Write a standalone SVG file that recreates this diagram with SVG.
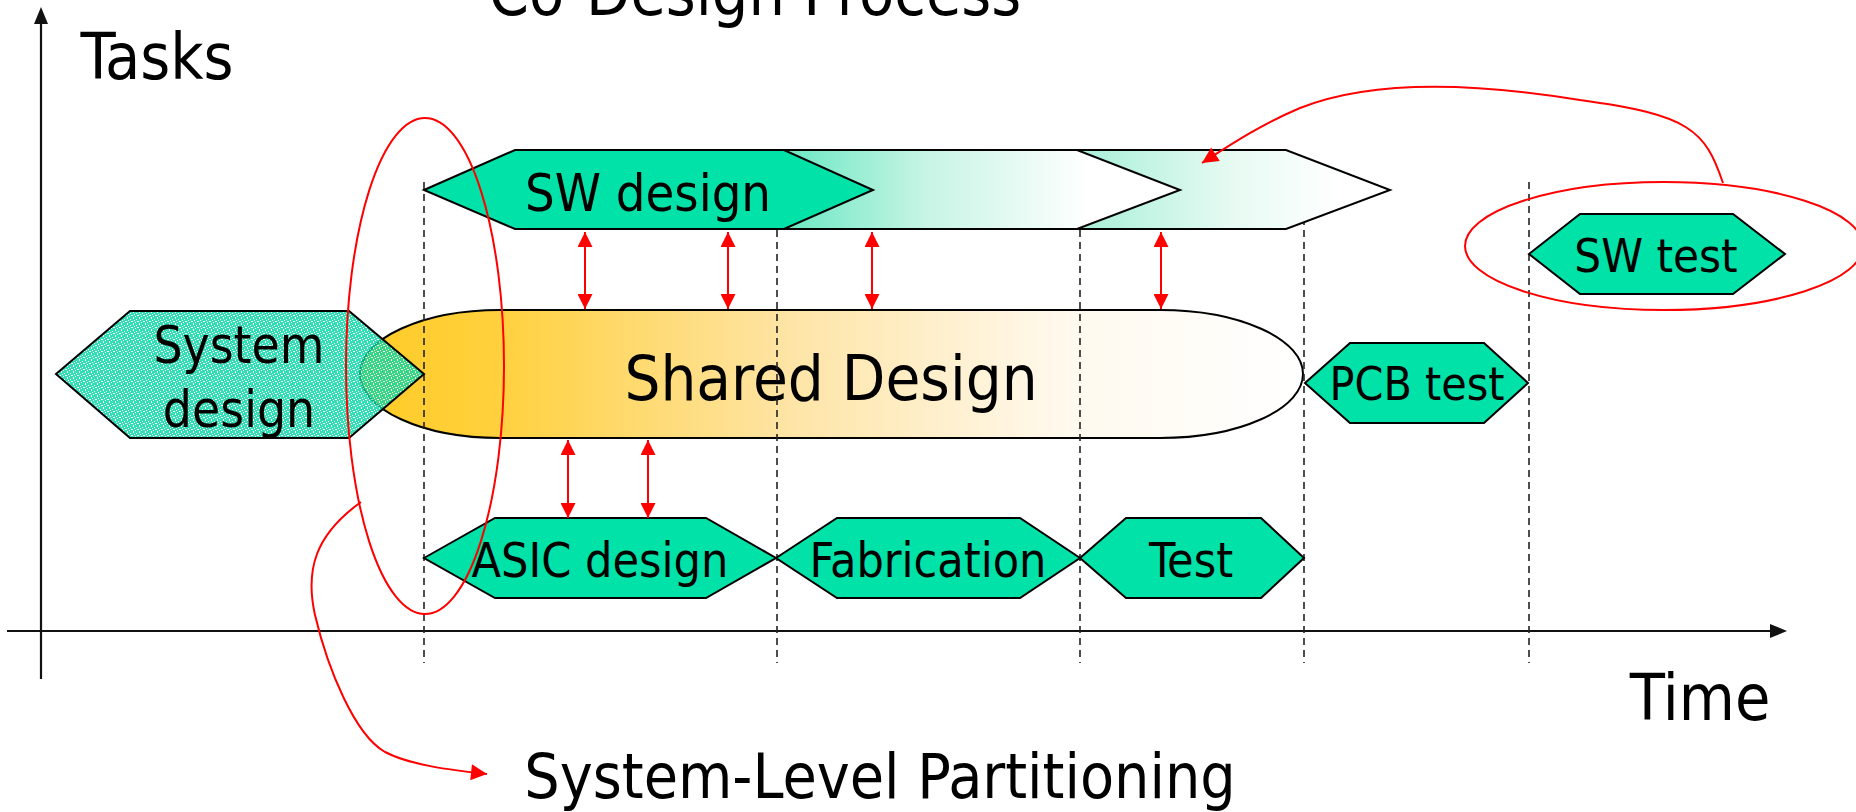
<svg xmlns="http://www.w3.org/2000/svg" width="1856" height="812" viewBox="0 0 1856 812">
<style>
text{font-family:"DejaVu Sans Condensed","DejaVu Sans",sans-serif;font-stretch:condensed;fill:#000;text-anchor:middle}
.hex{fill:#00E2A8;stroke:#000;stroke-width:2;stroke-linejoin:miter}
.dash{stroke:#222;stroke-width:1.6;stroke-dasharray:7 5;fill:none}
.axis{stroke:#111;stroke-width:2.2;fill:none}
.red{stroke:#FF0000;stroke-width:2;fill:none}
.dbl{stroke:#FF0000;stroke-width:2;marker-start:url(#rh);marker-end:url(#rh)}
</style>
<defs>
<marker id="rh" viewBox="0 0 10 10" refX="10" refY="5" markerWidth="16" markerHeight="15" markerUnits="userSpaceOnUse" orient="auto-start-reverse"><path d="M0,0 L10,5 L0,10 Z" fill="#FF0000"/></marker>
<marker id="rh1" viewBox="0 0 10 10" refX="10" refY="5" markerWidth="17" markerHeight="16" markerUnits="userSpaceOnUse" orient="auto"><path d="M0,0 L10,5 L0,10 Z" fill="#FF0000"/></marker>
<linearGradient id="gShared" gradientUnits="userSpaceOnUse" x1="360" y1="0" x2="1303" y2="0">
<stop offset="0" stop-color="#FFCB26"/><stop offset="0.14" stop-color="#FFD03C"/><stop offset="0.45" stop-color="#FEE4A4"/><stop offset="0.75" stop-color="#FFF9EE"/><stop offset="1" stop-color="#FFFFFF"/>
</linearGradient>
<linearGradient id="gH2" gradientUnits="userSpaceOnUse" x1="720" y1="0" x2="1090" y2="0">
<stop offset="0" stop-color="#00E2A8"/><stop offset="0.2" stop-color="#70E8C4"/><stop offset="0.55" stop-color="#C6F4E4"/><stop offset="1" stop-color="#FFFFFF"/>
</linearGradient>
<linearGradient id="gH3" gradientUnits="userSpaceOnUse" x1="900" y1="0" x2="1340" y2="0">
<stop offset="0" stop-color="#00E2A8"/><stop offset="0.4" stop-color="#A6EFD8"/><stop offset="0.75" stop-color="#E6FAF2"/><stop offset="1" stop-color="#FFFFFF"/>
</linearGradient>
<pattern id="speckle" patternUnits="userSpaceOnUse" width="6" height="6">
<rect width="6" height="6" fill="#00D8A2"/>
<rect x="1" y="0" width="1" height="1" fill="#fff"/><rect x="4" y="1" width="1" height="1" fill="#fff"/>
<rect x="2" y="2" width="1" height="1" fill="#fff"/><rect x="0" y="3" width="1" height="1" fill="#fff"/>
<rect x="5" y="3" width="1" height="1" fill="#fff"/><rect x="3" y="4" width="1" height="1" fill="#fff"/>
<rect x="1" y="5" width="1" height="1" fill="#fff"/>
</pattern>
</defs>

<g id="title"><text x="755" y="15" font-size="64">Co-Design Process</text></g>

<g id="axes">
<line class="axis" x1="41" y1="20" x2="41" y2="679"/>
<path d="M41,7 L34,24 L48,24 Z" fill="#111"/>
<line class="axis" x1="7" y1="631" x2="1774" y2="631"/>
<path d="M1787,631 L1770,624 L1770,638 Z" fill="#111"/>
<text x="157" y="79" font-size="64">Tasks</text>
<text x="1700" y="720" font-size="64">Time</text>
</g>

<g id="shared-design">
<path d="M500,310 L1160,310 A143,64 0 0 1 1160,438 L500,438 A140,64 0 0 1 500,310 Z" fill="url(#gShared)" stroke="#000" stroke-width="2"/>
<text x="831" y="400" font-size="63">Shared Design</text>
</g>

<g id="dashed-lines">
<line class="dash" x1="424" y1="182" x2="424" y2="663"/>
<line class="dash" x1="777" y1="182" x2="777" y2="663"/>
<line class="dash" x1="1080" y1="182" x2="1080" y2="663"/>
<line class="dash" x1="1304" y1="182" x2="1304" y2="663"/>
<line class="dash" x1="1529" y1="182" x2="1529" y2="663"/>
</g>

<g id="sw-design-extension-2">
<path d="M886,190 L977,150 L1286,150 L1390,190 L1286,229 L977,229 Z" fill="url(#gH3)" stroke="#000" stroke-width="2"/>
</g>
<g id="sw-design-extension-1">
<path d="M691,190 L782,150 L1077,150 L1180,190 L1077,229 L782,229 Z" fill="url(#gH2)" stroke="#000" stroke-width="2"/>
</g>
<g id="sw-design">
<path class="hex" d="M424,190 L515,150 L784,150 L873,190 L784,229 L515,229 Z"/>
<text x="648" y="211" font-size="52">SW design</text>
</g>

<g id="system-design">
<path d="M56,374 L130,311 L349,311 L424,374 L349,438 L130,438 Z" fill="url(#speckle)" fill-opacity="0.8" stroke="#000" stroke-width="2"/>
<text x="239" y="363" font-size="51">System</text>
<text x="239" y="427" font-size="51">design</text>
</g>

<g id="asic-design">
<path class="hex" d="M424,558 L495,518 L706,518 L776,558 L706,598 L495,598 Z"/>
<text x="600" y="577" font-size="48">ASIC design</text>
</g>
<g id="fabrication">
<path class="hex" d="M776,558 L837,518 L1020,518 L1080,558 L1020,598 L837,598 Z"/>
<text x="928" y="577" font-size="48">Fabrication</text>
</g>
<g id="test">
<path class="hex" d="M1080,558 L1126,518 L1261,518 L1304,558 L1261,598 L1126,598 Z"/>
<text x="1191" y="577" font-size="48">Test</text>
</g>
<g id="pcb-test">
<path class="hex" d="M1305,383 L1350,343 L1484,343 L1528,383 L1484,423 L1350,423 Z"/>
<text x="1417" y="400" font-size="46">PCB test</text>
</g>
<g id="sw-test">
<path class="hex" d="M1529,254 L1580,214 L1733,214 L1785,254 L1733,294 L1580,294 Z"/>
<text x="1656" y="272" font-size="47">SW test</text>
</g>

<g id="partitioning-label"><text x="880" y="798" font-size="62">System-Level Partitioning</text></g>

<g id="connectors">
<line class="dbl" x1="585" y1="232" x2="585" y2="309"/>
<line class="dbl" x1="728" y1="232" x2="728" y2="309"/>
<line class="dbl" x1="872" y1="232" x2="872" y2="309"/>
<line class="dbl" x1="1161" y1="232" x2="1161" y2="309"/>
<line class="dbl" x1="568" y1="440" x2="568" y2="518"/>
<line class="dbl" x1="648" y1="440" x2="648" y2="518"/>
<ellipse class="red" cx="425" cy="366" rx="79" ry="248"/>
<path class="red" d="M361,502 C315,535 305,570 315,615 C328,670 355,735 385,752 C410,765 450,770 487,774" marker-end="url(#rh1)"/>
<ellipse class="red" cx="1664" cy="246" rx="199" ry="64"/>
<path class="red" d="M1723,183 C1705,130 1690,115 1580,100 C1470,82 1370,80 1300,108 C1260,125 1230,145 1202,163" marker-end="url(#rh1)"/>
</g>
</svg>
